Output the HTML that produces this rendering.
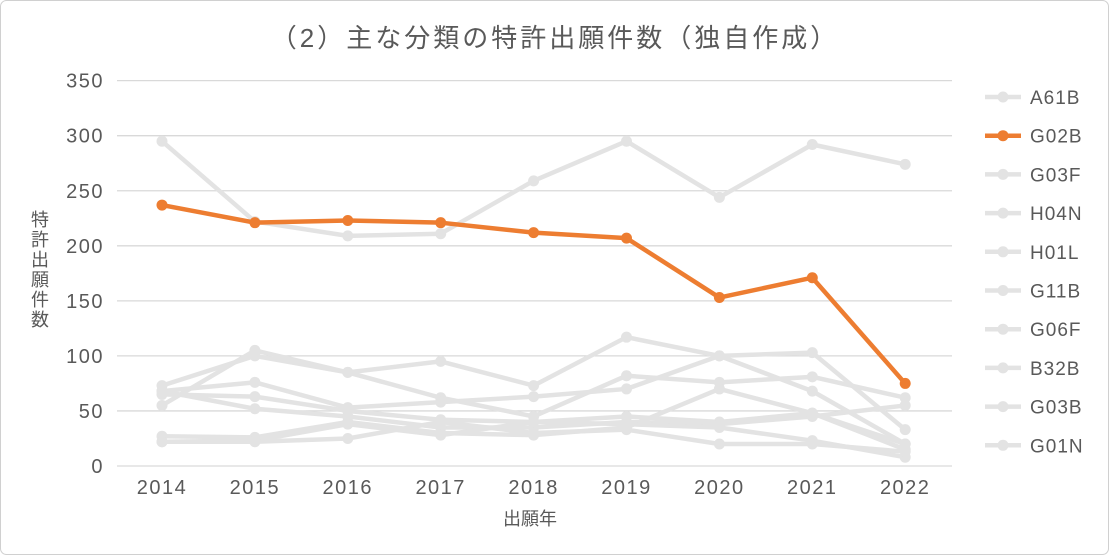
<!DOCTYPE html>
<html><head><meta charset="utf-8"><style>
body{margin:0;background:#fff;}
svg{display:block;font-family:"Liberation Sans","Noto Sans CJK JP",sans-serif;}
</style></head><body>
<svg id="c" width="1109" height="555">
<rect x="0.5" y="0.5" width="1108" height="554" rx="6" fill="#fff" stroke="#d0d0d0"/>
<text x="555" y="47" text-anchor="middle" font-size="26" letter-spacing="3" fill="#595959">（2）主な分類の特許出願件数（独自作成）</text>
<g id="grid"></g><g id="series"></g><g id="legend"></g>
<text x="530" y="525" text-anchor="middle" font-size="18" fill="#595959">出願年</text>
<g font-size="18" fill="#595959" text-anchor="middle">
<text x="40" y="226">特</text><text x="40" y="246">許</text><text x="40" y="266">出</text><text x="40" y="286">願</text><text x="40" y="306">件</text><text x="40" y="326">数</text>
</g>
</svg>
<script>
const years=[2014,2015,2016,2017,2018,2019,2020,2021,2022];
const yTicks=[0,50,100,150,200,250,300,350];
const seriesNames=["A61B","G02B","G03F","H04N","H01L","G11B","G06F","B32B","G03B","G01N"];
const A61B=[295,222,209,211,259,295,244,292,274];
const G02B=[237,221,223,221,212,207,153,171,75];
const G03F=[73,100,85,95,73,117,100,103,33];
const H04N=[55,105,85,62,45,82,76,81,62];
const H01L=[68,76,53,58,63,70,100,68,20];
const G11B=[65,63,50,42,40,45,40,48,15];
const G06F=[68,52,45,35,35,40,38,45,55];
const B32B=[27,26,40,30,28,35,70,48,20];
const G03B=[22,23,38,28,40,38,35,23,8];
const G01N=[22,22,25,40,30,33,20,20,13];
const allSeries=[A61B,G02B,G03F,H04N,H01L,G11B,G06F,B32B,G03B,G01N];
const NS="http://www.w3.org/2000/svg";
const x0=162,dx=92.9,y0=466,ky=1.101;
const X=i=>x0+i*dx, Y=v=>y0-v*ky;
function mk(t,a,p){const e=document.createElementNS(NS,t);for(const k in a)e.setAttribute(k,a[k]);p.appendChild(e);return e;}
const grid=document.getElementById('grid');
yTicks.forEach(v=>{
 const l=mk('line',{x1:117,x2:952,y1:Y(v),y2:Y(v),stroke:'#d9d9d9','stroke-width':1.3},grid);
 
 
 const t=mk('text',{x:104,y:Y(v)+7,'text-anchor':'end','font-size':20,'letter-spacing':1.5,fill:'#595959'},grid);t.textContent=v;
 
 
});
years.forEach((yr,i)=>{
 const t=mk('text',{x:X(i),y:494,'text-anchor':'middle','font-size':20,'letter-spacing':1.5,fill:'#595959'},grid);t.textContent=yr;
 
 
});
const sg=document.getElementById('series');
function draw(idx){
 const d=allSeries[idx],c=idx===1?'#ed7d31':'#e3e3e3';
 const g=mk('g',{},sg);
 
 
 mk('polyline',{points:d.map((v,i)=>X(i)+','+Y(v)).join(' '),fill:'none',stroke:c,'stroke-width':4.5,'stroke-linejoin':'round'},g);
 d.forEach((v,i)=>{const p=mk('circle',{cx:X(i),cy:Y(v),r:5.5,fill:c},g);
  
  });
}
for(let i=0;i<allSeries.length;i++) if(i!==1) draw(i);
draw(1);
const lg=document.getElementById('legend');
seriesNames.forEach((n,i)=>{
 const y=97+i*38.7,c=i===1?'#ed7d31':'#e3e3e3';
 const g=mk('g',{},lg);
 
 
 mk('line',{x1:985,x2:1021,y1:y,y2:y,stroke:c,'stroke-width':4.5},g);
 mk('circle',{cx:1003,cy:y,r:5.5,fill:c},g);
 const t=mk('text',{x:1030,y:y+7,'font-size':19,'letter-spacing':1,fill:'#595959'},g);t.textContent=n;
});
</script>
</body></html>
